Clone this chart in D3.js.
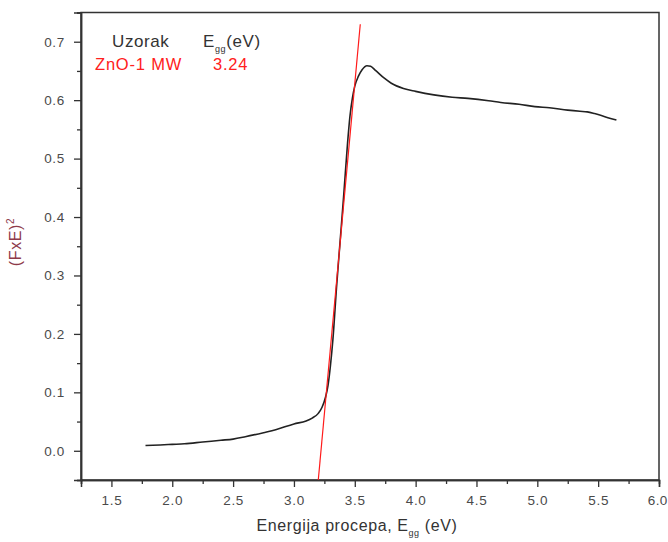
<!DOCTYPE html>
<html><head><meta charset="utf-8">
<script src="https://cdn.jsdelivr.net/npm/d3@7"></script>
<style>
html,body{margin:0;padding:0;background:#fff;}
text{font-family:"Liberation Sans",Arial,sans-serif;}
</style></head>
<body>
<svg id="chart" width="668" height="542"></svg>
<script>
// Data
const energy = [1.78, 1.9, 2.0, 2.1, 2.25, 2.4, 2.5, 2.6, 2.75, 2.85, 3.0, 3.1, 3.15, 3.2, 3.23, 3.26, 3.28, 3.3, 3.32, 3.35, 3.38, 3.41, 3.44, 3.46, 3.48, 3.5, 3.53, 3.56, 3.6, 3.63, 3.67, 3.74, 3.8, 3.9, 4.0, 4.15, 4.3, 4.43, 4.6, 4.7, 4.85, 4.98, 5.1, 5.25, 5.35, 5.41, 5.47, 5.52, 5.58, 5.65];
const fxe2   = [0.009, 0.010, 0.011, 0.012, 0.015, 0.018, 0.020, 0.024, 0.031, 0.036, 0.046, 0.051, 0.056, 0.064, 0.074, 0.092, 0.112, 0.146, 0.19, 0.28, 0.36, 0.44, 0.525, 0.572, 0.603, 0.624, 0.641, 0.652, 0.659, 0.658, 0.651, 0.638, 0.629, 0.620, 0.615, 0.609, 0.605, 0.603, 0.599, 0.596, 0.593, 0.589, 0.587, 0.583, 0.581, 0.580, 0.577, 0.574, 0.570, 0.566];
const fitX = [3.20, 3.545];
const fitY = [-0.05, 0.73];
const xTicks = [1.5, 2.0, 2.5, 3.0, 3.5, 4.0, 4.5, 5.0, 5.5, 6.0];
const yTicks = [0.0, 0.1, 0.2, 0.3, 0.4, 0.5, 0.6, 0.7];
const legendSample = "ZnO-1 MW";
const legendValue = "3.24";

const svg = d3.select("#chart");
const L = 81, R = 659, T = 12.5, B = 480;
const x = d3.scaleLinear().domain([1.25, 6.0]).range([L, R]);
const y = d3.scaleLinear().domain([-0.05, 0.75]).range([B, T]);

// frame
svg.append("rect").attr("x", L).attr("y", T).attr("width", R - L).attr("height", B - T)
  .attr("fill", "none").attr("stroke", "#333").attr("stroke-width", 1.5);

// axes
const xMinor = d3.range(1.25, 6.01, 0.25).filter(v => !xTicks.some(t => Math.abs(t - v) < 1e-6));
const yMinor = d3.range(-0.05, 0.751, 0.1);

const gx = svg.append("g").attr("transform", `translate(0,${B})`);
gx.call(d3.axisBottom(x).tickValues(xTicks).tickFormat(d3.format(".1f")).tickSize(7).tickPadding(8));
gx.append("g").call(d3.axisBottom(x).tickValues(xMinor).tickFormat("").tickSize(4));
const gy = svg.append("g").attr("transform", `translate(${L},0)`);
gy.call(d3.axisLeft(y).tickValues(yTicks).tickFormat(d3.format(".1f")).tickSize(7).tickPadding(9));
gy.append("g").call(d3.axisLeft(y).tickValues(yMinor).tickFormat("").tickSize(4));
svg.selectAll(".domain").attr("stroke", "#333").attr("stroke-width", 1.5);
svg.selectAll(".tick line").attr("stroke", "#333").attr("stroke-width", 1.3);
svg.selectAll(".tick text").attr("font-size", 13.5).attr("fill", "#4a4a4a")
  .attr("letter-spacing", 0.7).style("font-family", "'Liberation Sans',Arial,sans-serif");
// last x label sits at the right edge of the picture: keep it inside
gx.selectAll(".tick text").filter(d => d === 6.0)
  .attr("text-anchor", "end").attr("x", 8).attr("letter-spacing", 0.3);

// data curve
const pts = energy.map((e, i) => [e, fxe2[i]]);
svg.append("path").datum(pts)
  .attr("d", d3.line().x(d => x(d[0])).y(d => y(d[1])).curve(d3.curveMonotoneX))
  .attr("fill", "none").attr("stroke", "#222").attr("stroke-width", 1.6);

// linear fit
svg.append("line")
  .attr("x1", x(fitX[0])).attr("y1", y(fitY[0]))
  .attr("x2", x(fitX[1])).attr("y2", y(fitY[1]))
  .attr("stroke", "#ff1a1a").attr("stroke-width", 1.2);

// axis titles
const xt = svg.append("text").attr("x", 357).attr("y", 531).attr("text-anchor", "middle")
  .attr("font-size", 16).attr("fill", "#333").attr("letter-spacing", 0.6);
xt.append("tspan").text("Energija procepa, E");
xt.append("tspan").attr("font-size", 9).attr("dy", 5).text("gg");
xt.append("tspan").attr("dy", -5).text(" (eV)");

const yt = svg.append("text").attr("transform", "translate(21,242) rotate(-90)")
  .attr("text-anchor", "middle").attr("font-size", 16).attr("fill", "#8e3a4a").attr("letter-spacing", 0.6);
yt.append("tspan").text("(FxE)");
yt.append("tspan").attr("font-size", 10).attr("dy", -7).text("2");

// legend
svg.append("text").attr("x", 112).attr("y", 47).attr("font-size", 17).attr("fill", "#333")
  .attr("letter-spacing", 0.6).text("Uzorak");
const le = svg.append("text").attr("x", 203).attr("y", 47).attr("font-size", 17).attr("fill", "#333").attr("letter-spacing", 0.6);
le.append("tspan").text("E");
le.append("tspan").attr("font-size", 9).attr("dy", 5).text("gg");
le.append("tspan").attr("dy", -5).text("(eV)");
svg.append("text").attr("x", 95).attr("y", 70).attr("font-size", 16.5).attr("fill", "#ff2020")
  .attr("letter-spacing", 0.8).text(legendSample);
svg.append("text").attr("x", 213).attr("y", 70).attr("font-size", 16.5).attr("fill", "#ff2020")
  .attr("letter-spacing", 0.8).text(legendValue);
</script>
</body></html>
